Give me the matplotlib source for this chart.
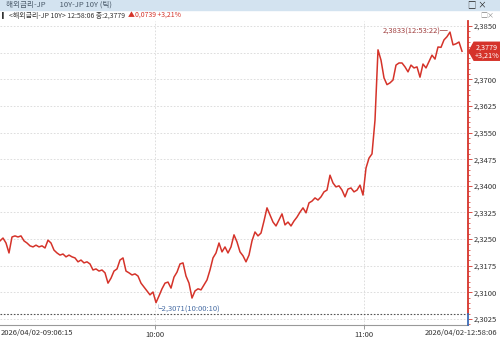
import numpy as np
import matplotlib
matplotlib.use("Agg")
import matplotlib.pyplot as plt
from matplotlib.patches import Rectangle, Polygon

plt.rcParams['font.family'] = ['Noto Sans CJK KR', 'DejaVu Sans']

# tick prices, 10Y JGB, one point per chart step
price = [2.3245, 2.3253, 2.3239, 2.3211, 2.3256, 2.3259, 2.3256, 2.3259, 2.3245, 2.3239,
         2.3231, 2.3228, 2.3233, 2.3228, 2.3231, 2.3225, 2.3247, 2.3239, 2.3219, 2.3211,
         2.3205, 2.3208, 2.3200, 2.3205, 2.3200, 2.3197, 2.3186, 2.3191, 2.3183, 2.3186,
         2.3180, 2.3163, 2.3166, 2.3160, 2.3163, 2.3155, 2.3126, 2.3140, 2.3160, 2.3166,
         2.3191, 2.3197, 2.3160, 2.3155, 2.3149, 2.3152, 2.3146, 2.3126, 2.3115, 2.3104,
         2.3093, 2.3101, 2.3071, 2.3090, 2.3110, 2.3126, 2.3129, 2.3112, 2.3143, 2.3157,
         2.3180, 2.3183, 2.3146, 2.3126, 2.3084, 2.3104, 2.3110, 2.3107, 2.3121, 2.3135,
         2.3163, 2.3197, 2.3211, 2.3239, 2.3214, 2.3228, 2.3211, 2.3228, 2.3262, 2.3242,
         2.3214, 2.3203, 2.3186, 2.3205, 2.3245, 2.3270, 2.3259, 2.3267, 2.3301, 2.3338,
         2.3318, 2.3298, 2.3287, 2.3304, 2.3321, 2.3290, 2.3298, 2.3287, 2.3301, 2.3312,
         2.3326, 2.3338, 2.3324, 2.3352, 2.3357, 2.3366, 2.3360, 2.3369, 2.3383, 2.3388,
         2.3430, 2.3408, 2.3397, 2.3400, 2.3388, 2.3369, 2.3391, 2.3394, 2.3383, 2.3388,
         2.3402, 2.3374, 2.3450, 2.3478, 2.3490, 2.3585, 2.3783, 2.3754, 2.3704, 2.3685,
         2.3690, 2.3698, 2.3740, 2.3746, 2.3746, 2.3735, 2.3721, 2.3740, 2.3732, 2.3735,
         2.3706, 2.3743, 2.3732, 2.3750, 2.3768, 2.3757, 2.3791, 2.3790, 2.3811, 2.3820,
         2.3833, 2.3797, 2.3800, 2.3805, 2.3779]

yticks = [2.3025, 2.3100, 2.3175, 2.3250, 2.3325, 2.3400, 2.3475, 2.3550, 2.3625, 2.3700, 2.3775, 2.3850]
time_ticks = [51.7, 121.3]
time_labels = ['10:00', '11:00']
prev_close = 2.3040
last = 2.3779
change = 0.0739
pct = 3.21
lo_label = '2,3071(10:00:10)'
hi_label = '2,3833(12:53:22)'
start_label = '2026/04/02-09:06:15'
end_label = '2026/04/02-12:58:06'

red = '#d5332a'
fs = 5.5
ylo, yhi = 2.30081, 2.38642


def fmt(v, nd=4):
    return ('%.*f' % (nd, v)).replace('.', ',')


fig = plt.figure(figsize=(5, 3.4), dpi=100)
ax = fig.add_axes([0.0, 15 / 340, 468 / 500, (325 - 21) / 340])

x = np.arange(len(price))
ax.plot(x, price, color=red, lw=1.1, zorder=3)
ax.set_xlim(0, len(price) - 1 + 2)
ax.set_ylim(ylo, yhi)

for t in yticks:
    ax.axhline(t, color='#d8d8d8', lw=0.6, ls=(0, (2, 2)), zorder=1)
for t in time_ticks:
    ax.axvline(t, color='#d8d8d8', lw=0.6, ls=(0, (2, 2)), zorder=1)
ax.axhline(prev_close, color='#555555', lw=0.8, ls=(0, (1.5, 1.5)), zorder=2)

ax.yaxis.tick_right()
ax.set_yticks(yticks)
# the last-price tag covers the label next to it
ax.set_yticklabels(['' if abs(t - last) < 0.002 else fmt(t) for t in yticks],
                   fontsize=fs, color='#333333')
ax.yaxis.set_minor_locator(matplotlib.ticker.MultipleLocator(0.0015))
ax.tick_params(axis='y', which='major', length=3, width=0.6, color=red, pad=1)
ax.tick_params(axis='y', which='minor', length=1.5, width=0.5, color=red)
ax.set_xticks(time_ticks)
ax.set_xticklabels(time_labels, fontsize=fs, color='#333333')
ax.tick_params(axis='x', length=3, width=0.6, color='#888888', pad=1.5)

for s in ['top', 'left']:
    ax.spines[s].set_visible(False)
ax.spines['bottom'].set_color('#999999')
ax.spines['bottom'].set_linewidth(0.8)
ax.spines['right'].set_color(red)
ax.spines['right'].set_linewidth(1.3)
ax.spines['right'].set_bounds(prev_close, yhi)
ax.plot([1, 1], [0, (prev_close - ylo) / (yhi - ylo)], transform=ax.transAxes,
        color='#3b6bb5', lw=1.3, clip_on=False, zorder=4)

# high / low annotations
lo_i = int(np.argmin(price))
hi_i = int(np.argmax(price))
ax.annotate('\u2514' + lo_label, (lo_i, price[lo_i]), xytext=(-1, -2), textcoords='offset points',
            fontsize=fs, color='#4a6fa5', ha='left', va='top')
ax.annotate(hi_label + '\u2500', (hi_i, price[hi_i]), xytext=(-1, 0), textcoords='offset points',
            fontsize=fs, color='#a04040', ha='right', va='center')

# bottom date labels
fig.text(0.002, 7 / 340, start_label, fontsize=fs, color='#333333', ha='left', va='center')
fig.text(0.994, 7 / 340, end_label, fontsize=fs, color='#333333', ha='right', va='center')

# current price tag
yl = ax.transData.transform((0, last))[1] / 340
tag = Polygon([(469 / 500, yl), (474 / 500, yl + 9 / 340), (500 / 500, yl + 9 / 340),
               (500 / 500, yl - 9 / 340), (474 / 500, yl - 9 / 340)],
              closed=True, transform=fig.transFigure, color=red, zorder=1)
fig.patches.append(tag)
fig.text(487 / 500, yl + 4 / 340, fmt(last), fontsize=fs - 0.3, color='white',
         ha='center', va='center', zorder=6)
fig.text(487 / 500, yl - 4 / 340, '+' + fmt(pct, 2) + '%', fontsize=fs - 0.3, color='white',
         ha='center', va='center', zorder=6)

# header bars
fig.patches.append(Rectangle((0, 330 / 340), 1, 10 / 340, transform=fig.transFigure,
                             color='#d3e3f0', zorder=0))
fig.text(0.012, 335 / 340, '해외금리-JP        10Y-JP 10Y (틱)', fontsize=fs, color='#4a5a6a',
         ha='left', va='center')
fig.text(0.955, 335 / 340, '\u25a1 \u00d7', fontsize=fs + 0.5, color='#222222', ha='center', va='center')
head = fig.text(0.005, 324 / 340, '\u258e<해외금리-JP 10Y> 12:58:06 종:' + fmt(last),
                fontsize=fs - 0.5, color='#333333', ha='left', va='center')
# change text follows right after the header text
ax.annotate('\u25b2' + fmt(change) + ' +' + fmt(pct, 2) + '%', xy=(1, 0.5), xycoords=head,
            xytext=(2, 0), textcoords='offset points', fontsize=fs - 0.5, color=red,
            ha='left', va='center', annotation_clip=False)
fig.text(0.975, 324 / 340, '\u25a1\u00d7', fontsize=fs - 0.5, color='#888888', ha='center', va='center')

fig.savefig('out.png', dpi=100)
